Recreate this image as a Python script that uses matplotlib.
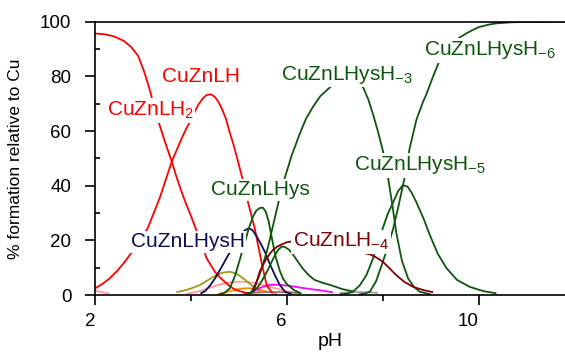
import matplotlib
matplotlib.use("Agg")
import matplotlib.pyplot as plt
from matplotlib.ticker import MultipleLocator

plt.rcParams['font.family'] = ['Liberation Sans', 'DejaVu Sans']
plt.rcParams['mathtext.fontset'] = 'custom'
plt.rcParams['mathtext.rm'] = 'Liberation Sans'
plt.rcParams['mathtext.it'] = 'Liberation Sans'
plt.rcParams['mathtext.bf'] = 'Liberation Sans'

# ---- data (pH, % formation) ----
ph_LH2 = [2.0, 2.2, 2.4, 2.6, 2.75, 2.9, 3.03, 3.15, 3.25, 3.35, 3.47, 3.6, 3.7, 3.8, 3.9, 4.0,
          4.15, 4.33, 4.5, 4.6, 4.7, 4.8, 4.9, 5.0, 5.1, 5.25]
v_LH2 = [95.7, 95.4, 94.6, 93.0, 90.8, 87.5, 81.5, 74.5, 68, 62, 55.5, 48.8, 43.2, 38, 33.3, 29,
         22, 13.4, 8.5, 6.5, 4.9, 3.4, 2.2, 1.5, 1.0, 0.5]

ph_LH = [2.0, 2.15, 2.3, 2.45, 2.6, 2.85, 3.1, 3.35, 3.6, 3.8, 3.9, 4.0, 4.08, 4.15, 4.25, 4.33,
         4.42, 4.5, 4.58, 4.65, 4.73, 4.8, 4.88, 4.95, 5.09, 5.19, 5.33, 5.47, 5.58, 5.7]
v_LH = [2.4, 4.0, 6.0, 8.6, 11.7, 17.5, 24.5, 35.5, 48.8, 57, 60.8, 64, 67, 69.5, 72, 73.2,
        73.4, 72.5, 70.5, 68, 64.5, 60, 55.5, 51, 41.5, 34, 24.4, 12.2, 3.5, 0.8]

ph_HysH = [4.2, 4.3, 4.4, 4.5, 4.62, 4.74, 4.85, 4.95, 5.05, 5.12, 5.2, 5.28, 5.36, 5.45, 5.55, 5.65, 5.75, 5.85, 5.96, 6.1]
v_HysH = [0.5, 1.5, 3.5, 6, 9.6, 13.4, 16.8, 19.5, 22.2, 23.6, 24.4, 23.8, 21.8, 19, 15.5, 11.2, 7.3, 3.8, 1.2, 0.3]

ph_Hys = [4.6, 4.7, 4.81, 4.92, 5.02, 5.12, 5.2, 5.29, 5.36, 5.43, 5.5, 5.56, 5.62, 5.68, 5.76, 5.85, 5.92, 6.0, 6.15, 6.3]
v_Hys = [0.3, 0.8, 2.4, 7, 13, 19, 24, 28.5, 30.8, 31.8, 32, 30.5, 27, 21.5, 14.5, 9, 6, 4, 1.8, 0.6]

ph_HysHm1 = [5.2, 5.3, 5.4, 5.5, 5.6, 5.68, 5.75, 5.82, 5.89, 5.96, 6.05, 6.14, 6.23, 6.34, 6.46, 6.58, 6.74, 6.9, 7.15, 7.38]
v_HysHm1 = [0.3, 1.3, 3, 5.8, 9, 12, 14.5, 16.5, 17.7, 17.6, 16.5, 14.5, 12.2, 9.5, 7.2, 5.5, 4.5, 3.7, 2.2, 1.3]

ph_HysHm3 = [5.1, 5.26, 5.4, 5.5, 5.6, 5.7, 5.8, 5.88, 5.96, 6.1, 6.27, 6.4, 6.55, 6.7, 6.9, 7.1, 7.25,
             7.4, 7.59, 7.7, 7.8, 7.9, 8.0, 8.11, 8.2, 8.28, 8.4, 8.53, 8.65, 8.77, 9.0]
v_HysHm3 = [0.2, 1, 6, 11, 17, 24.5, 32, 38, 43, 51, 59, 64.5, 69, 72.8, 76, 79, 80,
            79.3, 76, 71.5, 66, 59.8, 53, 43, 33, 23, 12.5, 6, 3, 1.2, 0.2]

ph_HysHm5 = [7.1, 7.25, 7.38, 7.52, 7.66, 7.8, 7.9, 8.0, 8.1, 8.22, 8.32, 8.42, 8.52, 8.6, 8.7,
             8.85, 8.98, 9.15, 9.33, 9.55, 9.81, 10.1, 10.37]
v_HysHm5 = [0.2, 0.5, 1.2, 3.5, 7.3, 13.5, 18.8, 24.4, 29.5, 34, 38, 40.2, 39.6, 37.5, 34,
            28, 22, 15, 9.8, 5.5, 3.0, 1.4, 0.6]

ph_HysHm6 = [7.5, 7.62, 7.73, 7.86, 8.0, 8.11, 8.22, 8.34, 8.46, 8.56, 8.7, 8.84, 8.9, 9.05, 9.19,
             9.32, 9.45, 9.6, 9.74, 9.88, 10.0, 10.2, 10.37, 10.7, 11.0, 11.8]
v_HysHm6 = [0.2, 0.5, 1.2, 5, 12, 18, 24.4, 33.5, 43.3, 53.6, 64, 70.7, 73, 80, 86,
            89.5, 92, 94.2, 95.7, 97, 98, 98.9, 99.4, 99.8, 99.9, 100]

ph_LHm4 = [5.3, 5.36, 5.44, 5.54, 5.63, 5.71, 5.8, 5.89, 6.0, 6.17, 6.37, 6.8, 7.3, 7.73, 7.87, 8.0,
           8.14, 8.28, 8.45, 8.63, 8.85, 9.05]
v_LHm4 = [1.2, 4.2, 8.8, 12.2, 14.7, 16.5, 17.7, 18.5, 19.3, 19.8, 18.9, 17.8, 16.5, 14.9, 13.7, 12.2,
          9.8, 7.3, 4.8, 3.0, 1.8, 1.0]

ph_olive = [3.7, 3.9, 4.05, 4.19, 4.36, 4.53, 4.67, 4.81, 4.95, 5.09, 5.2, 5.3, 5.44]
v_olive = [1.0, 1.8, 2.7, 3.7, 5.5, 7.3, 8.2, 8.5, 7.8, 6.1, 4.5, 3.0, 1.2]

ph_pink = [3.9, 4.05, 4.2, 4.35, 4.5, 4.65, 4.8, 5.0, 5.15, 5.3, 5.45, 5.6, 5.75, 5.9, 6.05, 6.2]
v_pink = [0.4, 0.9, 1.5, 2.4, 3.3, 4.1, 4.6, 4.9, 4.8, 4.5, 3.9, 3.2, 2.5, 1.8, 1.2, 0.8]

ph_pink2 = [2.0, 2.15, 2.3]
v_pink2 = [1.6, 1.0, 0.5]

ph_orange = [4.55, 4.68, 4.8, 4.9, 5.0, 5.1, 5.2, 5.3, 5.4, 5.5, 5.6, 5.7, 5.8]
v_orange = [0.3, 0.8, 1.3, 1.8, 2.2, 2.4, 2.5, 2.3, 2.0, 1.6, 1.2, 0.8, 0.5]

ph_magenta = [5.2, 5.28, 5.35, 5.42, 5.5, 5.58, 5.65, 5.75, 5.85, 5.97, 6.1, 6.25, 6.4, 6.55, 6.7, 6.83, 6.96]
v_magenta = [0.5, 1.2, 1.8, 2.4, 3.0, 3.4, 3.7, 3.8, 3.7, 3.5, 3.2, 2.8, 2.4, 2.05, 1.7, 1.35, 1.0]

ph_brown = [5.2, 5.35, 5.5, 5.65, 5.8, 5.95, 6.1, 6.3]
v_brown = [0.6, 0.85, 1.0, 1.1, 1.1, 1.0, 0.9, 0.6]

ph_gray = [7.1, 7.3, 7.5, 7.7, 7.9]
v_gray = [0.8, 1.0, 1.1, 1.0, 0.8]

x_ticks = [2, 6, 10]
y_ticks = [0, 20, 40, 60, 80, 100]

RED = '#ff0000'
NAVY = '#0c0c58'
GREEN = '#0d560d'
MAROON = '#800000'

fig = plt.figure(figsize=(5.65, 3.54), dpi=100)
ax = fig.add_axes([95 / 565, 1 - 295 / 354, 470 / 565, (295 - 21.7) / 354])

lw = 1.3
series = [
    (ph_pink2, v_pink2, '#ff9a9a'),
    (ph_pink, v_pink, '#ff9a9a'),
    (ph_olive, v_olive, '#9b9b16'),
    (ph_orange, v_orange, '#ff8c00'),
    (ph_brown, v_brown, '#a07070'),
    (ph_gray, v_gray, '#a0a0a0'),
    (ph_magenta, v_magenta, '#ff00ff'),
    (ph_LH2, v_LH2, RED),
    (ph_LH, v_LH, RED),
    (ph_HysH, v_HysH, NAVY),
    (ph_Hys, v_Hys, GREEN),
    (ph_HysHm1, v_HysHm1, GREEN),
    (ph_HysHm3, v_HysHm3, GREEN),
    (ph_HysHm5, v_HysHm5, GREEN),
    (ph_HysHm6, v_HysHm6, GREEN),
    (ph_LHm4, v_LHm4, MAROON),
]
for xs, ys, c in series:
    ax.plot(xs, ys, color=c, lw=lw, solid_capstyle='butt', solid_joinstyle='round')

labels = [
    (3.15, 67.5, r'CuZnLH$_2$', RED),
    (4.21, 80.0, 'CuZnLH', RED),
    (5.44, 38.5, 'CuZnLHys', GREEN),
    (3.93, 19.5, 'CuZnLHysH', NAVY),
    (7.13, 19.5, r'CuZnLH$_{-4}$', MAROON),
    (7.26, 80.5, r'CuZnLHysH$_{-3}$', GREEN),
    (8.77, 47.5, r'CuZnLHysH$_{-5}$', GREEN),
    (10.23, 89.5, r'CuZnLHysH$_{-6}$', GREEN),
]
for x, y, t, c in labels:
    ax.text(x, y, t, color=c, fontsize=15, ha='center', va='center', zorder=5,
            bbox=dict(facecolor='white', edgecolor='none', pad=1.0))

ax.set_xlim(2, 11.8)
ax.set_ylim(0, 100)
ax.set_xticks(x_ticks)
ax.set_yticks(y_ticks)
ax.xaxis.set_minor_locator(MultipleLocator(2))
ax.yaxis.set_minor_locator(MultipleLocator(10))
ax.tick_params(axis='both', which='major', direction='out', length=7, width=1.2,
               labelsize=13.5, colors='black')
ax.tick_params(axis='y', which='major', pad=10)
ax.tick_params(axis='x', which='major', pad=6)
ax.tick_params(axis='x', which='minor', direction='out', length=4, width=1.2)
ax.tick_params(axis='y', which='minor', direction='in', length=3.5, width=1.2)
for lab in ax.get_xticklabels():
    lab.set_horizontalalignment('right')
ax.spines['right'].set_visible(False)
for s in ['left', 'bottom', 'top']:
    ax.spines[s].set_linewidth(1.2)

ax.set_xlabel('pH', fontsize=14, labelpad=2)
ax.set_ylabel('% formation relative to Cu', fontsize=12.5, labelpad=12)

fig.savefig('out.png', dpi=100)
